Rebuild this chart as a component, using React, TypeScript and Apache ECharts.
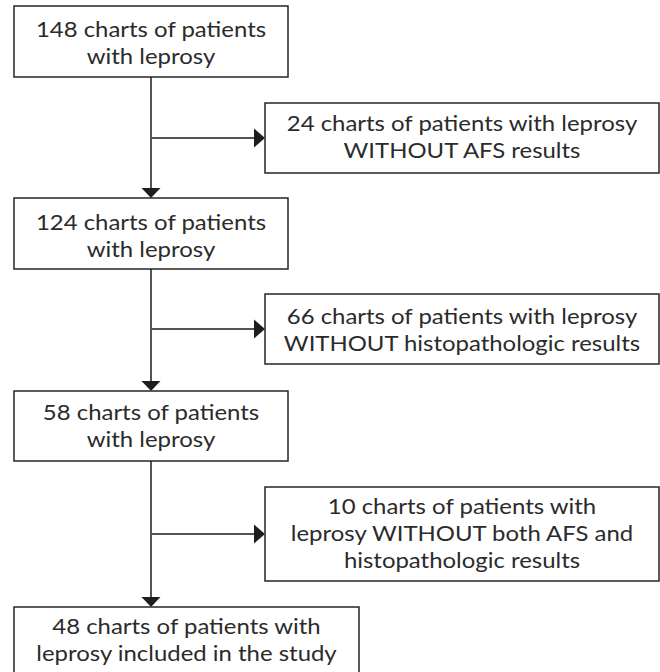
import React, { useEffect, useRef } from "react";
import * as echarts from "echarts";

const counts = [148, 24, 124, 66, 58, 10, 48];
const mainTexts = [
  `${counts[0]} charts of patients\nwith leprosy`,
  `${counts[2]} charts of patients\nwith leprosy`,
  `${counts[4]} charts of patients\nwith leprosy`,
  `${counts[6]} charts of patients with\nleprosy included in the study`,
];
const sideTexts = [
  `${counts[1]} charts of patients with leprosy\nWITHOUT AFS results`,
  `${counts[3]} charts of patients with leprosy\nWITHOUT histopathologic results`,
  `${counts[5]} charts of patients with\nleprosy WITHOUT both AFS and\nhistopathologic results`,
];

const FONT = "Lato, 'Noto Sans', sans-serif";
const TEXT_COLOR = "#2b2b2b";
const BOX_STROKE = "#262626";
const LINE_COLOR = "#555555";
const HEAD_COLOR = "#1e1e1e";
const FONT_SIZE = 21;
const STRETCH = 1.14;
const LINE_HEIGHT = 27;

// layout
const mainBoxes = [
  { x: 14, y: 6, w: 274, h: 71 },
  { x: 14, y: 198, w: 274, h: 71 },
  { x: 14, y: 391, w: 274, h: 70 },
  { x: 14, y: 607, w: 345, h: 80 },
];
const sideBoxes = [
  { x: 265, y: 103, w: 394, h: 70 },
  { x: 265, y: 294, w: 394, h: 70 },
  { x: 265, y: 487, w: 394, h: 94 },
];
const mainTextCenters = [42.5, 235.5, 426, 639.5];
const sideTextCenters = [137, 330, 533];
const branchY = [138, 329, 534];
const spineX = 151;

export default function App() {
  const ref = useRef<HTMLDivElement>(null);
  useEffect(() => {
    if (!ref.current) return;
    const chart = echarts.init(ref.current, undefined, { renderer: "svg" });
    const elements: any[] = [];

    for (let i = 0; i < 3; i++) {
      const from = mainBoxes[i].y + mainBoxes[i].h;
      const to = mainBoxes[i + 1].y;
      elements.push({
        type: "line",
        shape: { x1: spineX, y1: from, x2: spineX, y2: to - 9 },
        style: { stroke: LINE_COLOR, lineWidth: 2 },
      });
      elements.push({
        type: "polygon",
        shape: {
          points: [
            [spineX - 9.5, to - 10],
            [spineX + 9.5, to - 10],
            [spineX, to],
          ],
        },
        style: { fill: HEAD_COLOR },
      });
      const by = branchY[i];
      const bx = sideBoxes[i].x;
      elements.push({
        type: "line",
        shape: { x1: spineX, y1: by, x2: bx - 9, y2: by },
        style: { stroke: LINE_COLOR, lineWidth: 2 },
      });
      elements.push({
        type: "polygon",
        shape: {
          points: [
            [bx - 11, by - 9.5],
            [bx - 11, by + 9.5],
            [bx, by],
          ],
        },
        style: { fill: HEAD_COLOR },
      });
    }

    const addBox = (b: any, text: string, cy: number) => {
      elements.push({
        type: "rect",
        shape: { x: b.x, y: b.y, width: b.w, height: b.h },
        style: { fill: "#ffffff", stroke: BOX_STROKE, lineWidth: 1.5 },
      });
      elements.push({
        type: "text",
        x: b.x + b.w / 2,
        y: cy,
        scaleX: STRETCH,
        style: {
          text,
          fill: TEXT_COLOR,
          fontSize: FONT_SIZE,
          fontFamily: FONT,
          lineHeight: LINE_HEIGHT,
          align: "center",
          verticalAlign: "middle",
        },
      });
    };

    mainBoxes.forEach((b, i) => addBox(b, mainTexts[i], mainTextCenters[i]));
    sideBoxes.forEach((b, i) => addBox(b, sideTexts[i], sideTextCenters[i]));

    chart.setOption({
      animation: false,
      backgroundColor: "#ffffff",
      graphic: { elements },
    });
    return () => chart.dispose();
  }, []);
  return (
    <div
      ref={ref}
      style={{ position: "fixed", left: 0, top: 0, width: 660, height: 672 }}
    />
  );
}
